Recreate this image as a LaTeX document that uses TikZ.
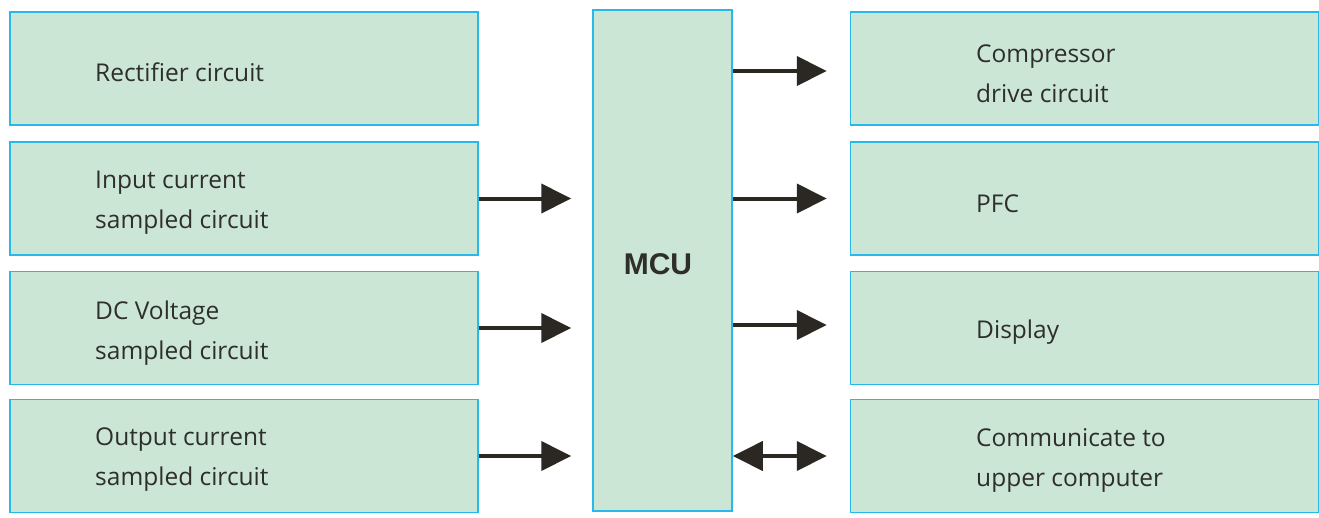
\documentclass[tikz,border=0pt]{standalone}
\usepackage{fontspec}
\setmainfont{Open Sans}
\newfontfamily\boldsans{Liberation Sans}
\usetikzlibrary{arrows.meta}
\definecolor{boxfill}{HTML}{CCE6D6}
\definecolor{boxline}{HTML}{29B8EC}
\definecolor{arrowcol}{HTML}{2B2722}
\definecolor{txtcol}{HTML}{2E2E2A}
\begin{document}
\begin{tikzpicture}[x=1pt,y=-1pt,
  blk/.style={draw=boxline,fill=boxfill,line width=1.5pt,minimum width=468pt,minimum height=113pt,inner sep=0pt},
  lbl/.style={anchor=west,align=left,font=\fontsize{24.5}{40}\selectfont,text=txtcol,inner sep=0pt},
  conn/.style={draw=arrowcol,line width=4pt,-{Triangle[length=30pt,width=29pt]}},
  biconn/.style={draw=arrowcol,line width=4pt,{Triangle[length=30pt,width=29pt]}-{Triangle[length=30pt,width=29pt]}}]
\useasboundingbox (0,0) rectangle (1319,517);
% left column
\node[blk] (L1) at (244,68.5) {};
\node[blk] (L2) at (244,198.5) {};
\node[blk] (L3) at (244,328) {};
\node[blk] (L4) at (244,456) {};
% right column
\node[blk] (R1) at (1084.5,68.5) {};
\node[blk] (R2) at (1084.5,198.5) {};
\node[blk] (R3) at (1084.5,328) {};
\node[blk] (R4) at (1084.5,456) {};
% MCU
\node[draw=boxline,fill=boxfill,line width=1.5pt,minimum width=139pt,minimum height=501pt,inner sep=0pt] (MCU) at (662.5,260.5) {};
\node[font=\boldsans\bfseries\fontsize{30}{34}\selectfont,text=txtcol] (mcut) at (658,264) {MCU};
% labels
\node[lbl] (t1) at (95,72) {Rectifier circuit};
\node[lbl] (t2) at (95,203) {Input current\\sampled circuit};
\node[lbl] (t3) at (95,333) {DC Voltage\\sampled circuit};
\node[lbl] (t4) at (95,460) {Output current\\sampled circuit};
\node[lbl] (t5) at (976,74) {Compressor\\drive circuit};
\node[lbl] (t6) at (976,204) {PFC};
\node[lbl] (t7) at (976,332) {Display};
\node[lbl] (t8) at (976,460) {Communicate to\\upper computer};
% connectors
\path[conn,shorten >=21pt] (L2.east) -- (L2.east -| MCU.west);
\path[conn,shorten >=21pt] (L3.east) -- (L3.east -| MCU.west);
\path[conn,shorten >=21pt] (L4.east) -- (L4.east -| MCU.west);
\path[conn,shorten >=23pt] ([yshift=-2.5pt]R1.west -| MCU.east) -- ([yshift=-2.5pt]R1.west);
\path[conn,shorten >=23pt] (R2.west -| MCU.east) -- (R2.west);
\path[conn,shorten >=23pt] ([yshift=3pt]R3.west -| MCU.east) -- ([yshift=3pt]R3.west);
\path[biconn,shorten >=23pt] (R4.west -| MCU.east) -- (R4.west);
\end{tikzpicture}
\end{document}
